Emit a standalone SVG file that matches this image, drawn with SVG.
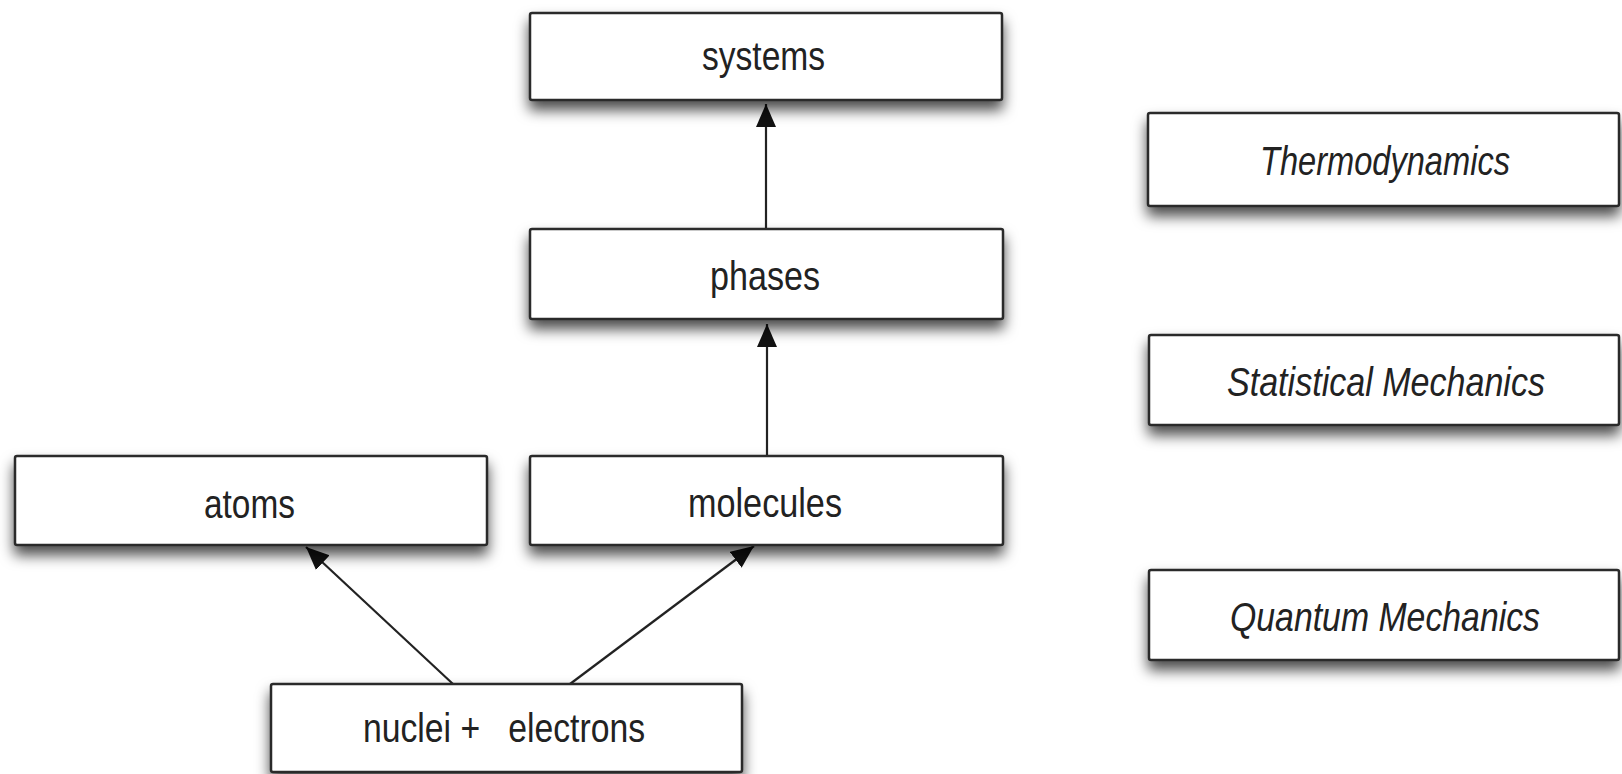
<svg xmlns="http://www.w3.org/2000/svg" width="1622" height="774" viewBox="0 0 1622 774">
<style>
.box{fill:#fff;stroke:#2b2b2b;stroke-width:2.5;filter:url(#sh)}
.lbl{font-family:"Liberation Sans",Arial,sans-serif;font-size:40px;fill:#222}
.it{font-style:italic}
.edge{stroke:#222;stroke-width:2.2;fill:none;marker-end:url(#ah)}
</style>
<defs>
<filter id="sh" x="-10%" y="-30%" width="120%" height="190%">
<feDropShadow dx="0" dy="9" stdDeviation="7" flood-color="#000" flood-opacity="0.7"/>
</filter>
<marker id="ah" markerUnits="userSpaceOnUse" markerWidth="26" markerHeight="22" refX="23" refY="10" orient="auto">
<path d="M0,0 L23,10 L0,20 Z" fill="#111"/>
</marker>
</defs>
<rect width="1622" height="774" fill="#fff"/>
<g id="connectors">
<line class="edge" x1="766" y1="229" x2="766" y2="104"/>
<line class="edge" x1="767" y1="456" x2="767" y2="324"/>
<line class="edge" x1="453" y1="684" x2="306" y2="547"/>
<line class="edge" x1="570" y1="684" x2="754" y2="546"/>
</g>
<g id="systems"><rect class="box" x="530" y="13" width="472" height="87" rx="2"/><text class="lbl" x="702" y="70" textLength="123" lengthAdjust="spacingAndGlyphs">systems</text></g>
<g id="phases"><rect class="box" x="530" y="229" width="473" height="90" rx="2"/><text class="lbl" x="710" y="290" textLength="110" lengthAdjust="spacingAndGlyphs">phases</text></g>
<g id="molecules"><rect class="box" x="530" y="456" width="473" height="89" rx="2"/><text class="lbl" x="688" y="517" textLength="154" lengthAdjust="spacingAndGlyphs">molecules</text></g>
<g id="atoms"><rect class="box" x="15" y="456" width="472" height="89" rx="2"/><text class="lbl" x="204" y="518" textLength="91" lengthAdjust="spacingAndGlyphs">atoms</text></g>
<g id="nuclei"><rect class="box" x="271" y="684" width="471" height="88" rx="2"/><text class="lbl" x="363" y="742" textLength="282" lengthAdjust="spacingAndGlyphs" xml:space="preserve">nuclei +   electrons</text></g>
<g id="thermodynamics"><rect class="box" x="1148" y="113" width="471" height="93" rx="2"/><text class="lbl it" x="1260" y="175" textLength="250" lengthAdjust="spacingAndGlyphs">Thermodynamics</text></g>
<g id="statmech"><rect class="box" x="1149" y="335" width="470" height="90" rx="2"/><text class="lbl it" x="1227" y="396" textLength="318" lengthAdjust="spacingAndGlyphs">Statistical Mechanics</text></g>
<g id="quantum"><rect class="box" x="1149" y="570" width="470" height="90" rx="2"/><text class="lbl it" x="1230" y="631" textLength="310" lengthAdjust="spacingAndGlyphs">Quantum Mechanics</text></g>
</svg>
